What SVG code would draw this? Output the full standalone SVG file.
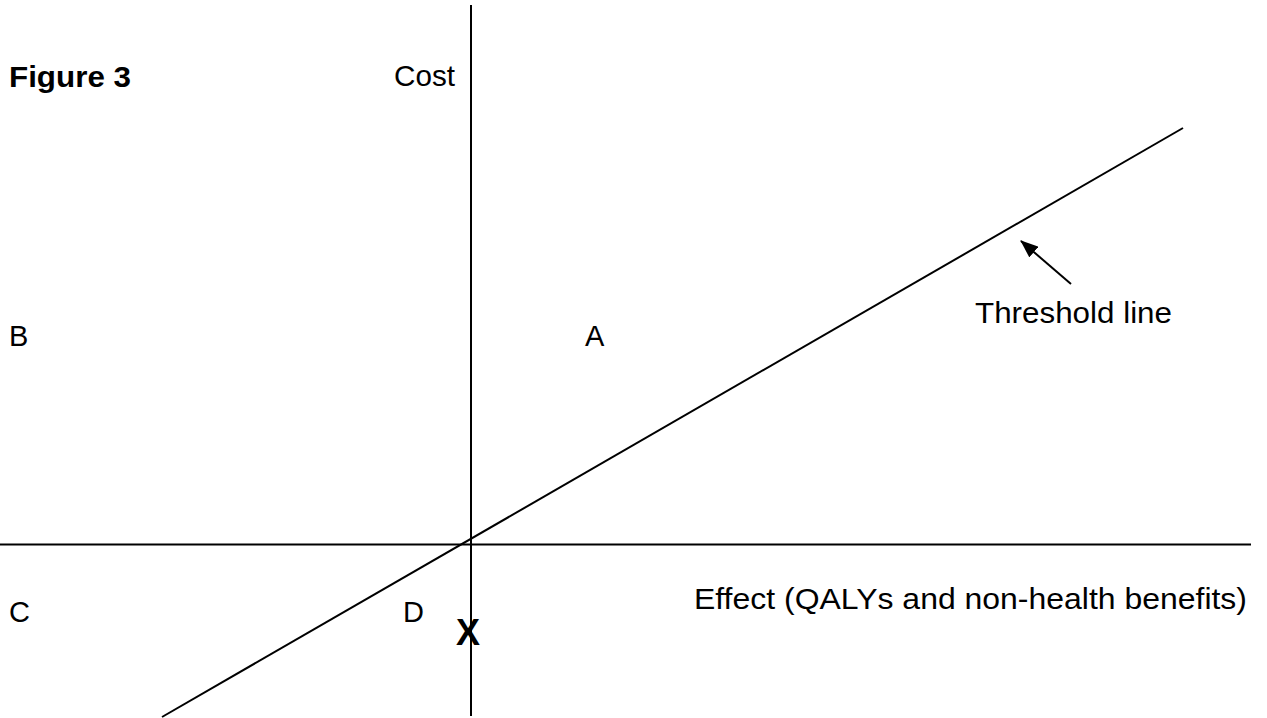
<svg xmlns="http://www.w3.org/2000/svg" width="1267" height="718" viewBox="0 0 1267 718">
  <style>
    .ln { stroke: #000; stroke-width: 2; fill: none; }
    .t { font-family: "Liberation Sans", Arial, sans-serif; font-size: 29px; fill: #000; }
    .b { font-weight: bold; }
  </style>
  <defs>
    <marker id="ah" markerUnits="userSpaceOnUse" markerWidth="18" markerHeight="14" refX="17" refY="7" orient="auto">
      <path d="M0,0 L18,7 L0,14 z" fill="#000"/>
    </marker>
  </defs>
  <rect width="1267" height="718" fill="#fff"/>
  <g id="connectors">
    <line class="ln" x1="471" y1="5" x2="471" y2="716"/>
    <line class="ln" x1="0" y1="544.5" x2="1251" y2="544.5"/>
    <line class="ln" x1="162" y1="717" x2="1183" y2="128"/>
    <line class="ln" x1="1071" y1="284" x2="1021" y2="241" marker-end="url(#ah)"/>
  </g>
  <g id="title"><text class="t b" x="9" y="87" textLength="122" lengthAdjust="spacingAndGlyphs">Figure 3</text></g>
  <g id="cost"><text class="t" x="394" y="86" textLength="61" lengthAdjust="spacingAndGlyphs">Cost</text></g>
  <g id="threshold"><text class="t" x="975" y="323" textLength="197" lengthAdjust="spacingAndGlyphs">Threshold line</text></g>
  <g id="effect"><text class="t" x="694" y="609" textLength="553" lengthAdjust="spacingAndGlyphs">Effect (QALYs and non-health benefits)</text></g>
  <g id="qA"><text class="t" x="585" y="346">A</text></g>
  <g id="qB"><text class="t" x="9" y="346">B</text></g>
  <g id="qC"><text class="t" x="9" y="622">C</text></g>
  <g id="qD"><text class="t" x="403" y="622">D</text></g>
  <g id="pX"><text class="t b" x="456" y="645" style="font-size:36px">X</text></g>
</svg>
